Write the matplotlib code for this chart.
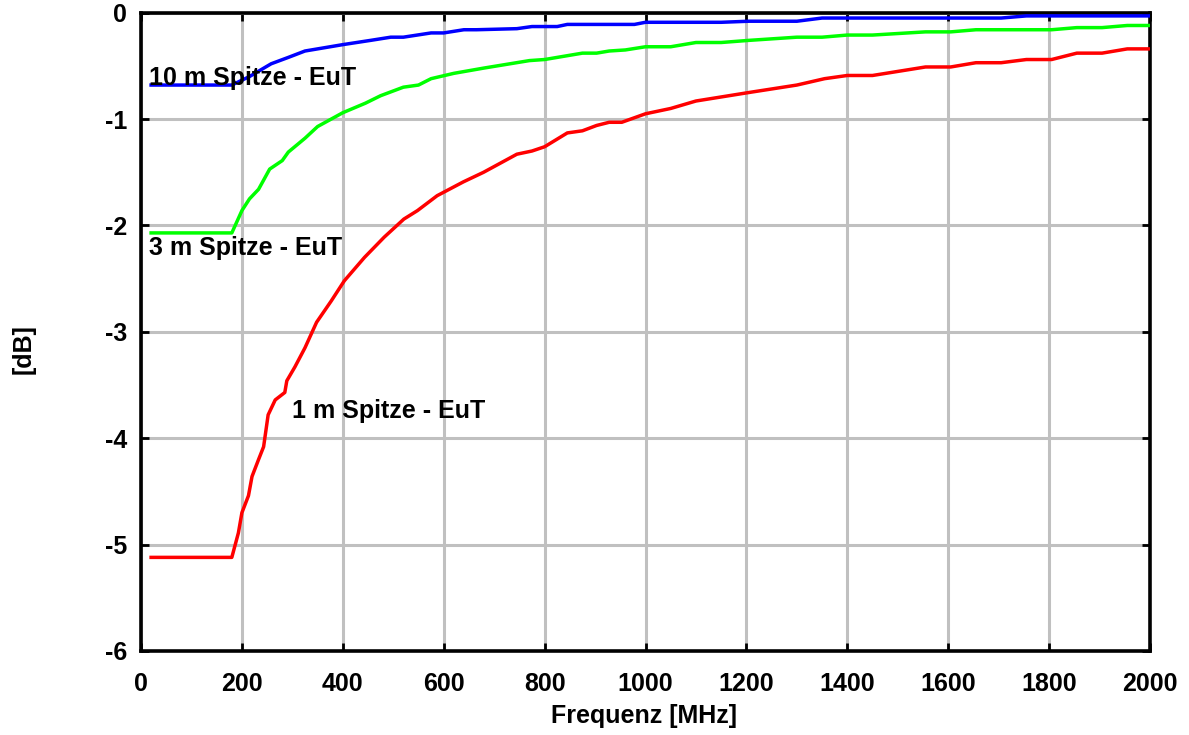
import matplotlib
matplotlib.use('Agg')
import matplotlib.pyplot as plt

plt.rcParams['font.family'] = ['Liberation Sans', 'DejaVu Sans']
plt.rcParams['font.weight'] = 'bold'
plt.rcParams['axes.unicode_minus'] = False

# 10 m Spitze - EuT
f_10m = [20, 180, 215, 258, 292, 325, 350, 400, 455, 495, 520, 575, 600, 640, 665,
         745, 775, 825, 845, 978, 1000, 1150, 1205, 1300, 1350, 1705, 1755, 2000]
db_10m = [-0.68, -0.68, -0.60, -0.48, -0.42, -0.36, -0.34, -0.30, -0.26, -0.23, -0.23,
          -0.19, -0.19, -0.16, -0.16, -0.15, -0.13, -0.13, -0.11, -0.11, -0.09, -0.09,
          -0.08, -0.08, -0.05, -0.05, -0.03, -0.03]

# 3 m Spitze - EuT
f_3m = [20, 180, 200, 215, 233, 255, 280, 292, 325, 350, 400, 445, 475, 520, 550, 575,
        620, 680, 770, 800, 875, 903, 928, 960, 1000, 1050, 1100, 1150, 1205, 1300,
        1350, 1400, 1450, 1555, 1605, 1655, 1805, 1855, 1905, 1955, 2000]
db_3m = [-2.07, -2.07, -1.86, -1.75, -1.66, -1.47, -1.39, -1.31, -1.18, -1.07, -0.94,
         -0.85, -0.78, -0.70, -0.68, -0.62, -0.57, -0.52, -0.45, -0.44, -0.38, -0.38,
         -0.36, -0.35, -0.32, -0.32, -0.28, -0.28, -0.26, -0.23, -0.23, -0.21, -0.21,
         -0.18, -0.18, -0.16, -0.16, -0.14, -0.14, -0.12, -0.12]

# 1 m Spitze - EuT
f_1m = [20, 180, 193, 200, 213, 220, 233, 243, 252, 266, 285, 289, 305, 325, 348, 377,
        403, 443, 482, 521, 548, 587, 639, 679, 745, 775, 800, 845, 875, 903, 928, 953,
        1000, 1050, 1100, 1205, 1300, 1355, 1400, 1450, 1555, 1605, 1655, 1705, 1755,
        1805, 1855, 1905, 1955, 2000]
db_1m = [-5.12, -5.12, -4.89, -4.70, -4.54, -4.36, -4.20, -4.08, -3.78, -3.64, -3.57,
         -3.46, -3.33, -3.15, -2.91, -2.71, -2.52, -2.30, -2.11, -1.94, -1.86, -1.72,
         -1.59, -1.50, -1.33, -1.30, -1.26, -1.13, -1.11, -1.06, -1.03, -1.03, -0.95,
         -0.90, -0.83, -0.75, -0.68, -0.62, -0.59, -0.59, -0.51, -0.51, -0.47, -0.47,
         -0.44, -0.44, -0.38, -0.38, -0.34, -0.34]

x_ticks = [0, 200, 400, 600, 800, 1000, 1200, 1400, 1600, 1800, 2000]
y_ticks = [0, -1, -2, -3, -4, -5, -6]

fig = plt.figure(figsize=(11.89, 7.35), dpi=100)
ax = fig.add_axes([0.1186, 0.1143, 0.8486, 0.8684])

ax.plot(f_10m, db_10m, color='#0000ff', lw=2.5, zorder=3)
ax.plot(f_3m, db_3m, color='#00ff00', lw=2.5, zorder=3)
ax.plot(f_1m, db_1m, color='#ff0000', lw=2.5, zorder=3)

ax.text(16, -0.615, '10 m Spitze - EuT', fontsize=18, fontweight='bold', va='center', zorder=4)
ax.text(16, -2.21, '3 m Spitze - EuT', fontsize=18, fontweight='bold', va='center', zorder=4)
ax.text(299, -3.74, '1 m Spitze - EuT', fontsize=18, fontweight='bold', va='center', zorder=4)

ax.set_xlim(0, 2000)
ax.set_ylim(-6, 0)
ax.set_xticks(x_ticks)
ax.set_yticks(y_ticks)
ax.grid(True, color='#c0c0c0', lw=2.2, zorder=0)
ax.set_axisbelow(True)

for s in ax.spines.values():
    s.set_linewidth(2.6)
ax.tick_params(direction='in', length=6, width=2, top=True, right=True,
               labelsize=18)
ax.tick_params(axis='y', pad=10)
ax.tick_params(axis='x', pad=15)

fig.text(644 / 1189, 1 - 716 / 735, 'Frequenz [MHz]', fontsize=18, fontweight='bold',
         ha='center', va='center')
fig.text(24 / 1189, 1 - 349 / 735, '[dB]', fontsize=18, fontweight='bold',
         ha='center', va='center', rotation=90)

plt.savefig('out.png', dpi=100)
